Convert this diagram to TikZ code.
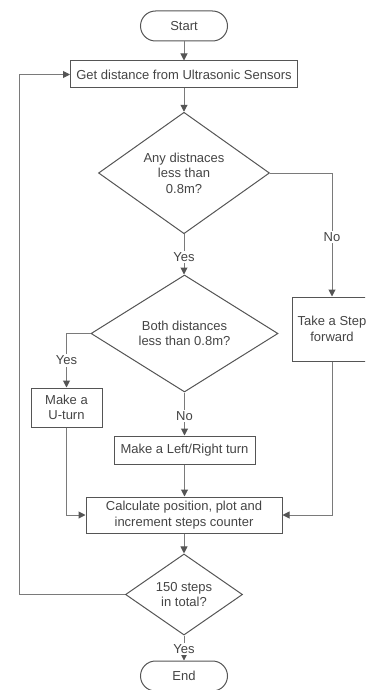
\documentclass[tikz,border=0pt]{standalone}
\usepackage{fontspec}
\setmainfont{Liberation Sans}
\usetikzlibrary{shapes.geometric,arrows.meta}
\definecolor{bordc}{HTML}{555555}
\definecolor{linec}{HTML}{7a7a7a}
\definecolor{txtc}{HTML}{444444}
\begin{document}
\begin{tikzpicture}[x=1pt,y=-1pt,
  base/.style={font=\fontsize{13}{15.5}\selectfont, text=txtc},
  box/.style={base, draw=bordc, line width=1pt, rectangle, inner sep=0pt, align=center},
  term/.style={box, rounded corners=15pt},
  dia/.style={base, draw=bordc, line width=1pt, diamond, inner sep=0pt, align=center},
  conn/.style={draw=linec, line width=1pt, -{Triangle[length=7pt,width=7pt,color=bordc]}},
  lab/.style={base, fill=white, inner sep=1.5pt}]
\useasboundingbox (0,0) rectangle (365,690);
\clip (0,0) rectangle (365,690);

\node[term, minimum width=87pt, minimum height=30pt] (start) at (184,26) {Start};
\node[box, minimum width=227pt, minimum height=27pt] (get) at (184,74.5) {Get distance from Ultrasonic Sensors};
\node[dia, minimum width=171pt, minimum height=114pt] (d1) at (184,173) {Any distnaces\\less than\\0.8m?};
\node[box, minimum width=80pt, minimum height=64pt] (step) at (332,329) {Take a Step\\forward};
\node[dia, minimum width=187pt, minimum height=117pt] (d2) at (184.5,333.5) {Both distances\\less than 0.8m?};
\node[box, minimum width=71pt, minimum height=39pt] (uturn) at (66.5,407.5) {Make a\\U-turn};
\node[box, minimum width=141pt, minimum height=28pt] (lr) at (184.5,450) {Make a Left/Right turn};
\node[box, minimum width=196pt, minimum height=36pt] (calc) at (184,515) {Calculate position, plot and\\increment steps counter};
\node[dia, minimum width=117pt, minimum height=69pt] (d3) at (184,594.5) {150 steps\\in total?};
\node[term, minimum width=87pt, minimum height=30pt] (end) at (184,676) {End};

\coordinate (lp) at (19,594.5);

\draw[conn] (start) -- (get);
\draw[conn] (get) -- (d1);
\draw[conn] (d1.east) -| node[lab, pos=0.76] {No} (step.north);
\draw[conn] (d1.south) -- node[lab, pos=0.56] {Yes} (d1.south |- d2.north);
\draw[conn] (d2.west) -| node[lab, pos=0.75] {Yes} (uturn.north);
\draw[conn] (d2.south) -- node[lab, pos=0.545] {No} (lr.north);
\draw[conn] (uturn.south) |- (calc.west);
\draw[conn] (step.south) |- (calc.east);
\draw[conn] (lr.south) -- (lr.south |- calc.north);
\draw[conn] (calc.south) -- (d3.north);
\draw[conn] (d3.west) -- (lp) |- (get.west);
\draw[conn] (d3.south) -- node[lab, pos=0.53] {Yes} (end.north);
\end{tikzpicture}
\end{document}
